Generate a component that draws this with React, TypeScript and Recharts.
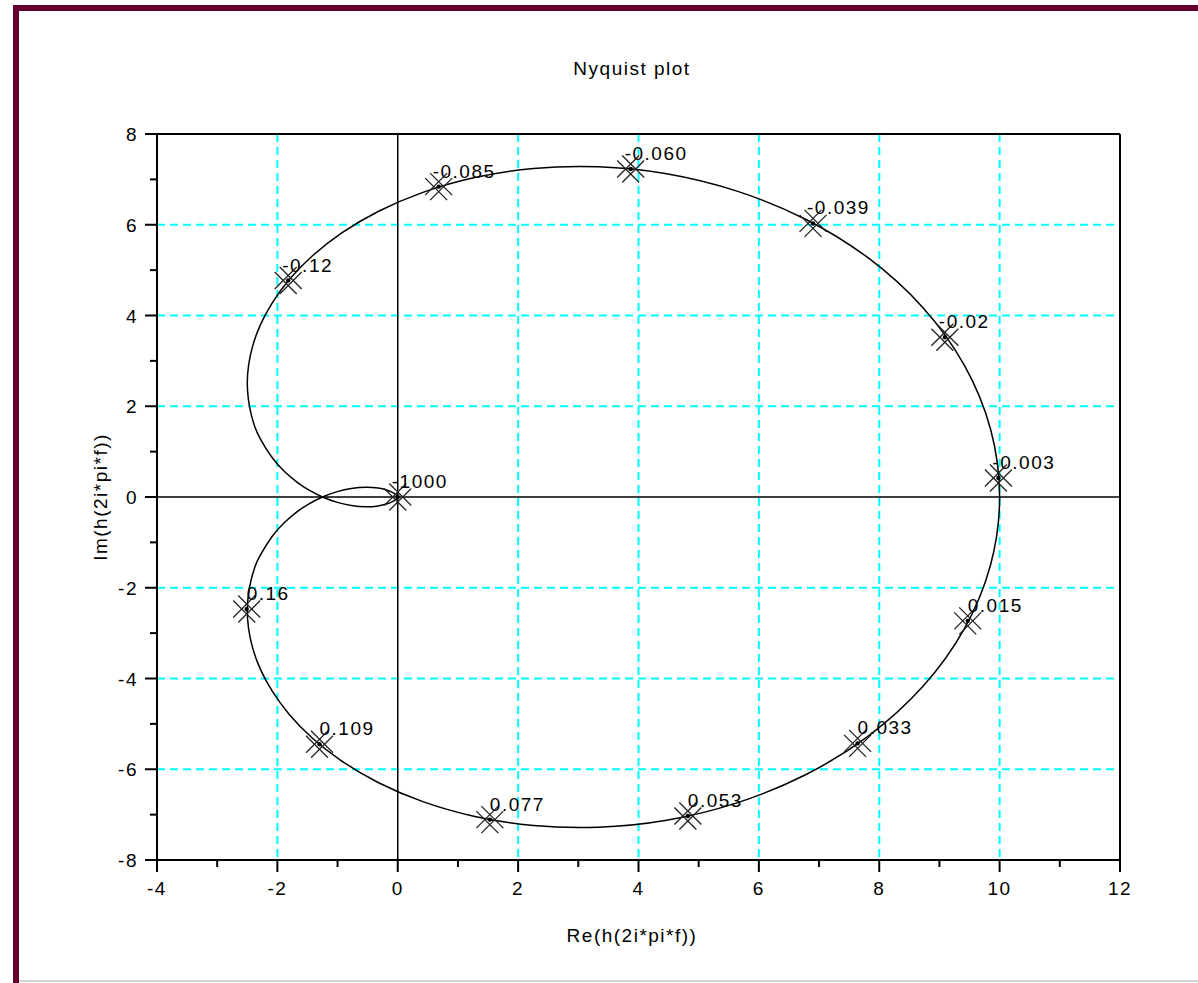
import React from 'react'
import {
  ScatterChart,
  Scatter,
  XAxis,
  YAxis,
  CartesianGrid,
  ReferenceLine
} from 'recharts'

// Nyquist locus of h, negative frequencies (upper half), from the origin out to h(0) = 10
const upperRe = [
  0, -0.012, -0.042, -0.096, -0.189, -0.326, -0.527, -0.772, -1.003, -1.25,
  -1.481, -1.675, -1.882, -2.091, -2.286, -2.372, -2.436, -2.481, -2.5, -2.479,
  -2.411, -2.285, -2.085, -1.802, -1.421, -0.93, -0.318, 0.418, 1.28, 2.256,
  3.331, 4.467, 5.637, 6.775, 7.823, 8.723, 9.415, 9.851, 10
]
const upperIm = [
  0, -0.026, -0.063, -0.106, -0.155, -0.196, -0.215, -0.187, -0.118, 0,
  0.156, 0.328, 0.561, 0.875, 1.289, 1.535, 1.825, 2.146, 2.5, 2.895,
  3.325, 3.787, 4.28, 4.792, 5.311, 5.82, 6.297, 6.714, 7.04, 7.24,
  7.278, 7.124, 6.741, 6.122, 5.263, 4.178, 2.902, 1.488, 0
]

// positive frequencies (lower half), from h(0) back into the origin
const lowerRe = [
  10, 9.851, 9.415, 8.723, 7.823, 6.775, 5.637, 4.467, 3.331, 2.256,
  1.28, 0.418, -0.318, -0.93, -1.421, -1.802, -2.085, -2.285, -2.411, -2.479,
  -2.5, -2.481, -2.436, -2.372, -2.286, -2.091, -1.882, -1.675, -1.481, -1.25,
  -1.003, -0.772, -0.527, -0.326, -0.189, -0.096, -0.042, -0.012, 0
]
const lowerIm = [
  0, -1.488, -2.902, -4.178, -5.263, -6.122, -6.741, -7.124, -7.278, -7.24,
  -7.04, -6.714, -6.297, -5.82, -5.311, -4.792, -4.28, -3.787, -3.325, -2.895,
  -2.5, -2.146, -1.825, -1.535, -1.289, -0.875, -0.561, -0.328, -0.156, 0,
  0.118, 0.187, 0.215, 0.196, 0.155, 0.106, 0.063, 0.026, 0
]

// frequency marks along the locus
const markLabels = [
  '-0.003', '-0.02', '-0.039', '-0.060', '-0.085', '-0.12', '-1000',
  '0.16', '0.109', '0.077', '0.053', '0.033', '0.015'
]
const markRe = [9.98, 9.09, 6.9, 3.87, 0.68, -1.82, 0, -2.51, -1.3, 1.53, 4.82, 7.64, 9.47]
const markIm = [0.42, 3.52, 6.03, 7.23, 6.84, 4.77, 0, -2.47, -5.45, -7.11, -7.03, -5.43, -2.73]

const xTicks = [-4, -3, -2, -1, 0, 1, 2, 3, 4, 5, 6, 7, 8, 9, 10, 11, 12]
const yTicks = [-8, -7, -6, -5, -4, -3, -2, -1, 0, 1, 2, 3, 4, 5, 6, 7, 8]
const gridX = [-2, 2, 4, 6, 8, 10]
const gridY = [-6, -4, -2, 2, 4, 6]

const curve = [
  ...upperRe.map((re, i) => ({ re, im: upperIm[i] })),
  ...lowerRe.slice(1).map((re, i) => ({ re, im: lowerIm[i + 1] }))
]
const marks = markLabels.map((label, i) => ({ re: markRe[i], im: markIm[i], label }))

const FONT = '"Liberation Sans", Arial, sans-serif'
const txt = { fontSize: 19, fill: '#000', fontFamily: FONT, letterSpacing: 1.5 }

function XTick({ x, y, payload }: any) {
  const major = payload.value % 2 === 0
  return (
    <g>
      <line x1={x} y1={y} x2={x} y2={y + (major ? 12 : 7)} stroke="#000" strokeWidth={2} />
      {major && (
        <text x={x} y={y + 35} textAnchor="middle" {...txt}>
          {payload.value}
        </text>
      )}
    </g>
  )
}

function YTick({ x, y, payload }: any) {
  const major = payload.value % 2 === 0
  return (
    <g>
      <line x1={x} y1={y} x2={x - (major ? 12 : 7)} y2={y} stroke="#000" strokeWidth={2} />
      {major && (
        <text x={x - 19} y={y + 7} textAnchor="end" {...txt}>
          {payload.value}
        </text>
      )}
    </g>
  )
}

// scilab-style mark: a doubled cross with the frequency written beside it
function Mark({ cx, cy, payload }: any) {
  const d = 11
  const o = 2.5
  const neg = payload.label.startsWith('-')
  const s = { stroke: '#222', strokeWidth: 1.3 }
  return (
    <g>
      <line x1={cx - d - o} y1={cy - d + o} x2={cx + d - o} y2={cy + d + o} {...s} />
      <line x1={cx - d + o} y1={cy - d - o} x2={cx + d + o} y2={cy + d - o} {...s} />
      <line x1={cx - d - o} y1={cy + d - o} x2={cx + d - o} y2={cy - d - o} {...s} />
      <line x1={cx - d + o} y1={cy + d + o} x2={cx + d + o} y2={cy - d + o} {...s} />
      <circle cx={cx} cy={cy} r={2.2} fill="#000" />
      <text x={cx + (neg ? -6 : 0)} y={cy - 9} {...txt}>
        {payload.label}
      </text>
    </g>
  )
}

export default function App() {
  return (
    <div style={{ position: 'absolute', left: 0, top: 0, width: 1198, height: 983, background: '#fff', overflow: 'hidden' }}>
      <div
        style={{
          position: 'absolute',
          left: 13,
          top: 5,
          width: 1198,
          height: 990,
          borderLeft: '6px solid #660033',
          borderTop: '6px solid #660033'
        }}
      />
      <div style={{ position: 'absolute', left: 19, top: 980, width: 1180, height: 2, background: '#d6d3ce' }} />
      <div style={{ position: 'absolute', left: 0, top: 0 }}>
        <ScatterChart
          width={1198}
          height={983}
          margin={{ top: 134, left: 156, right: 78, bottom: 122 }}
          style={{ fontFamily: FONT }}
        >
          <CartesianGrid
            stroke="#00ffff"
            strokeWidth={2}
            strokeDasharray="8 5"
            verticalValues={gridX}
            horizontalValues={gridY}
          />
          <XAxis
            type="number"
            dataKey="re"
            domain={[-4, 12]}
            ticks={xTicks}
            interval={0}
            height={1}
            tickSize={0}
            tickMargin={0}
            tickLine={false}
            tick={<XTick />}
            axisLine={{ stroke: '#000', strokeWidth: 2 }}
            allowDataOverflow
          />
          <YAxis
            type="number"
            dataKey="im"
            domain={[-8, 8]}
            ticks={yTicks}
            interval={0}
            width={1}
            tickSize={0}
            tickMargin={0}
            tickLine={false}
            tick={<YTick />}
            axisLine={{ stroke: '#000', strokeWidth: 2 }}
            allowDataOverflow
          />
          <ReferenceLine y={8} stroke="#000" strokeWidth={2} />
          <ReferenceLine x={12} stroke="#000" strokeWidth={2} />
          <ReferenceLine y={0} stroke="#000" strokeWidth={1.5} />
          <ReferenceLine x={0} stroke="#000" strokeWidth={1.5} />
          <Scatter
            data={curve}
            line={{ stroke: '#000', strokeWidth: 1.5 }}
            lineJointType="natural"
            shape={() => <g />}
            isAnimationActive={false}
          />
          <Scatter data={marks} shape={<Mark />} isAnimationActive={false} />
          <text x={632} y={75} textAnchor="middle" {...txt}>
            Nyquist plot
          </text>
          <text x={632} y={942} textAnchor="middle" {...txt}>
            Re(h(2i*pi*f))
          </text>
          <text x={107} y={497} textAnchor="middle" transform="rotate(-90 107 497)" {...txt}>
            Im(h(2i*pi*f))
          </text>
        </ScatterChart>
      </div>
    </div>
  )
}
